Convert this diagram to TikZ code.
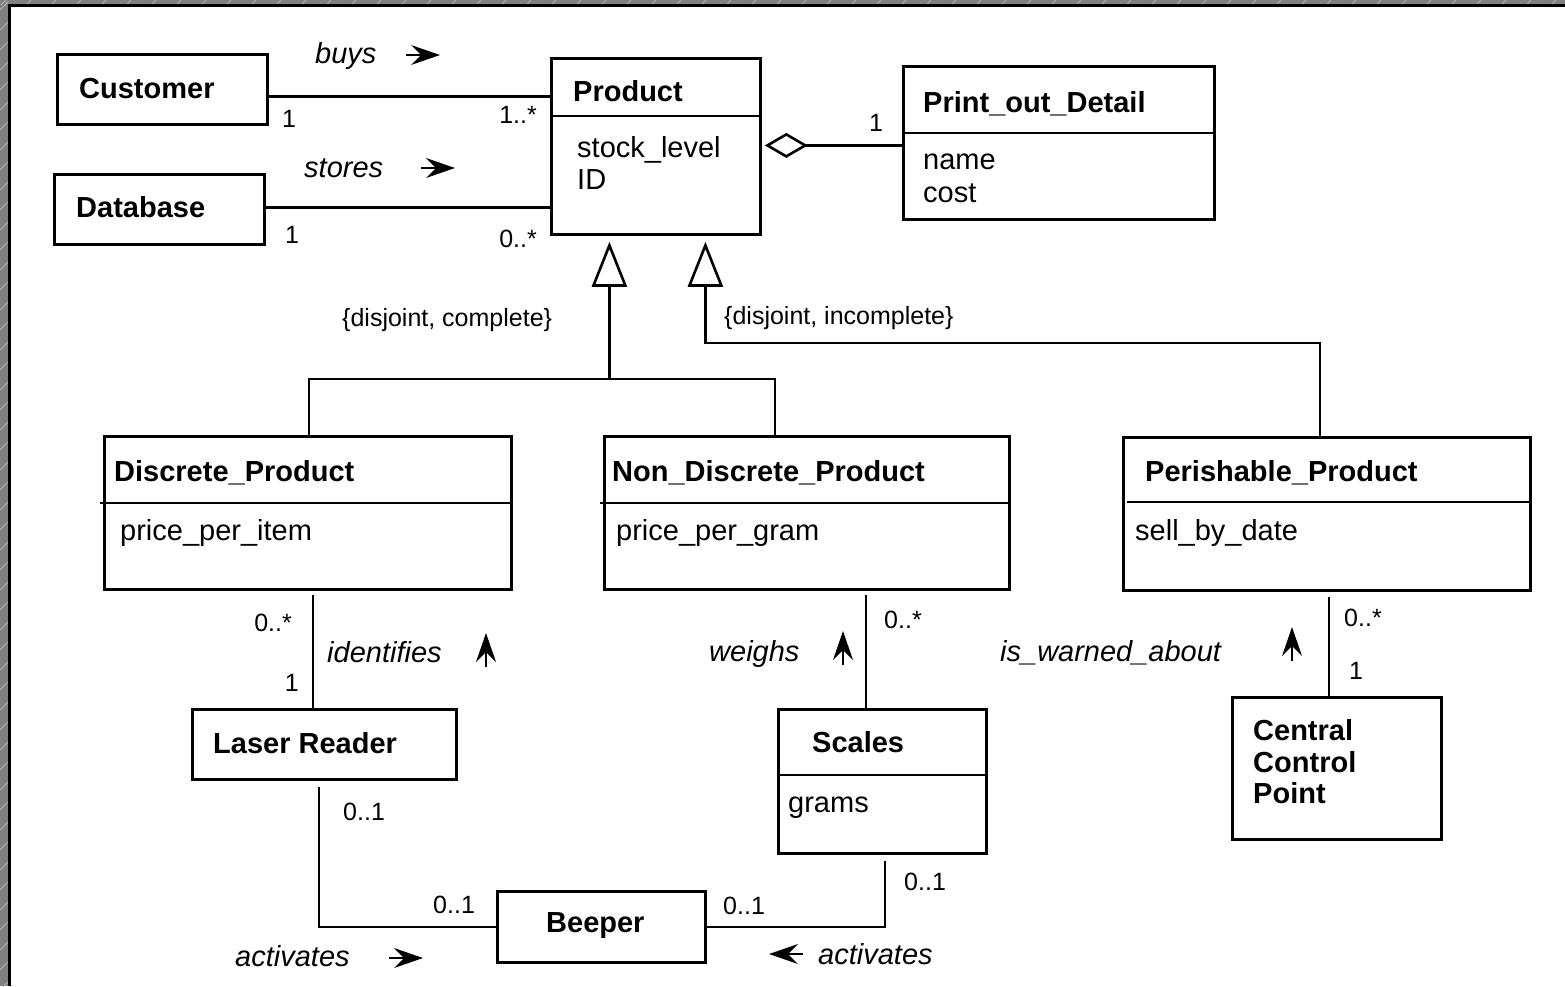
\documentclass[tikz,border=0pt]{standalone}
\usepackage{fontspec}
\setmainfont{Liberation Sans}
\usetikzlibrary{arrows.meta,calc}
\newcommand\fTitle{\fontsize{29}{33}\selectfont\bfseries}
\newcommand\fAttr{\fontsize{29}{33}\selectfont}
\newcommand\fMult{\fontsize{25}{29}\selectfont}
\newcommand\fRole{\fontsize{29}{33}\selectfont\itshape}
\begin{document}
\begin{tikzpicture}[x=1pt,y=-1pt,
  box/.style={draw, line width=2.8pt, rectangle, inner sep=0pt, anchor=north west},
  conn/.style={line width=2.6pt},
  ttl/.style={font=\fTitle, anchor=base west, inner sep=0pt},
  attr/.style={font=\fAttr, anchor=base west, inner sep=0pt},
  multl/.style={font=\fMult, anchor=base west, inner sep=0pt},
  multr/.style={font=\fMult, anchor=base east, inner sep=0pt},
  role/.style={font=\fRole, anchor=base west, inner sep=0pt},
  dirind/.pic={\fill (0,0) -- (-29,-10) -- (-19,0) -- (-29,10) -- cycle;
               \draw[line width=2.2pt] (-34,0) -- (-18,0);},
  gen/.style={conn, -{Triangle[open, length=45pt, width=35pt, line width=2.6pt]}},
  agg/.style={conn, shorten >=3pt, -{Diamond[open, length=43pt, width=25pt, line width=2.6pt]}}
]
\useasboundingbox (0,0) rectangle (1565,986);
\fill[white] (0,0) rectangle (1565,986);
% frame
\fill[black!50] (0,0) rectangle (9,986);
\fill[black!50] (0,0) rectangle (1565,6);
\begin{scope}
  \clip (0,0) rectangle (8,986);
  \foreach \i in {0,20,...,1000} \draw[black!30, line width=0.8pt] (0,\i+10) -- (10,\i);
\end{scope}
\begin{scope}
  \clip (0,0) rectangle (1565,4.5);
  \foreach \i in {0,25,...,1575} \draw[black!30, line width=0.8pt] (\i,6) -- (\i+6,0);
\end{scope}
\draw[line width=3pt] (9.5,986) -- (9.5,5.8) -- (1565,5.8);

% class boxes
\node[box, minimum width=210pt, minimum height=70pt] (cust) at (56,53) {};
\node[box, minimum width=210pt, minimum height=70pt] (db) at (53,173) {};
\node[box, minimum width=209pt, minimum height=176pt] (prod) at (550,57) {};
\node[box, minimum width=311pt, minimum height=153pt] (pod) at (902,65) {};
\node[box, minimum width=407pt, minimum height=153pt] (disc) at (103,435) {};
\node[box, minimum width=405pt, minimum height=153pt] (nondisc) at (603,435) {};
\node[box, minimum width=407pt, minimum height=153pt] (perish) at (1122,436) {};
\node[box, minimum width=264pt, minimum height=70pt] (laser) at (191,708) {};
\node[box, minimum width=208pt, minimum height=144pt] (scales) at (777,708) {};
\node[box, minimum width=209pt, minimum height=142pt] (ccp) at (1231,696) {};
\node[box, minimum width=208pt, minimum height=71pt] (beeper) at (496,890) {};

% compartment dividers
\draw[conn] ($(prod.north west)+(0,59)$) -- ($(prod.north east)+(0,59)$);
\draw[conn] ($(pod.north west)+(0,68)$) -- ($(pod.north east)+(0,68)$);
\draw[conn] ($(disc.north west)+(-3,68)$) -- ($(disc.north east)+(-2,68)$);
\draw[conn] ($(nondisc.north west)+(-3,68)$) -- ($(nondisc.north east)+(-2,68)$);
\draw[conn] ($(perish.north west)+(5,66)$) -- ($(perish.north east)+(-3,66)$);
\draw[conn] ($(scales.north west)+(0,67)$) -- ($(scales.north east)+(0,67)$);

% box texts
\node[ttl] (tcust) at (79,98) {Customer};
\node[ttl] (tdb) at (76,217) {Database};
\node[ttl] (tprod) at (573,101) {Product};
\node[attr] (aprod1) at (577,157) {stock\_level};
\node[attr] (aprod2) at (577,189) {ID};
\node[ttl] (tpod) at (923,112) {Print\_out\_Detail};
\node[attr] (apod1) at (923,169) {name};
\node[attr] (apod2) at (923,202) {cost};
\node[ttl] (tdisc) at (114,481) {Discrete\_Product};
\node[attr] (adisc) at (120,540) {price\_per\_item};
\node[ttl] (tnondisc) at (612,481) {Non\_Discrete\_Product};
\node[attr] (anondisc) at (616,540) {price\_per\_gram};
\node[ttl] (tperish) at (1145,481) {Perishable\_Product};
\node[attr] (aperish) at (1135,540) {sell\_by\_date};
\node[ttl] (tlaser) at (213,753) {Laser Reader};
\node[ttl] (tscales) at (812,752) {Scales};
\node[attr] (ascales) at (788,812) {grams};
\node[ttl] (tccp1) at (1253,740) {Central};
\node[ttl] (tccp2) at (1253,772) {Control};
\node[ttl] (tccp3) at (1253,803) {Point};
\node[ttl] (tbeeper) at (546,932) {Beeper};

% associations
\coordinate (c1) at ($(cust.east)+(0,7)$);
\draw[conn] (c1) -- (c1 -| prod.west);
\coordinate (c2) at ($(db.east)+(0,-2)$);
\draw[conn] (c2) -- (c2 -| prod.west);
\coordinate (ag) at ($(pod.west)+(0,2.5)$);
\draw[agg] (ag) -- (ag -| prod.east);

% generalisation 1
\coordinate (g1) at ($(prod.south)+(-46.5,6)$);
\coordinate (b1) at ($(disc.north west)+(206,-56)$);
\coordinate (b2) at ($(nondisc.north west)+(172,-56)$);
\draw[conn] (b1 |- disc.north) -- (b1) -- (b2) -- (b2 |- nondisc.north);
\draw[gen] (g1 |- b1) -- (g1);
% generalisation 2
\coordinate (g2) at ($(prod.south)+(49.5,6)$);
\coordinate (p2) at ($(perish.north west)+(198,-93)$);
\draw[gen] (p2 |- perish.north) -- (p2) -- (p2 -| g2) -- (g2);

% lower associations
\coordinate (dl) at ($(laser.north west)+(122,0)$);
\draw[conn, shorten <=4pt] (dl |- disc.south) -- (dl);
\coordinate (ns) at ($(scales.north west)+(89,0)$);
\draw[conn, shorten <=4pt] (ns |- nondisc.south) -- (ns);
\coordinate (pc) at ($(ccp.north west)+(98,0)$);
\draw[conn, shorten <=5pt] (pc |- perish.south) -- (pc);
\coordinate (lb) at ($(laser.south west)+(128,0)$);
\draw[conn, shorten <=6pt] (lb) -- (lb |- beeper.west) -- (beeper.west);
\coordinate (sb) at ($(scales.south west)+(108,0)$);
\draw[conn, shorten >=6pt] (beeper.east) -- (beeper.east -| sb) -- (sb);

% multiplicities
\node[multl] (m1) at (282,127) {1};
\node[multr] (m2) at (537,123) {1..*};
\node[multl] (m3) at (285,243) {1};
\node[multr] (m4) at (537,247) {0..*};
\node[multl] (m5) at (869,131) {1};
\node[multr] (m6) at (292,631) {0..*};
\node[multr] (m7) at (299,691) {1};
\node[multl] (m8) at (884,628) {0..*};
\node[multl] (m9) at (1344,626) {0..*};
\node[multl] (m10) at (1349,679) {1};
\node[multl] (m11) at (343,820) {0..1};
\node[multl] (m12) at (433,913) {0..1};
\node[multl] (m13) at (723,914) {0..1};
\node[multl] (m14) at (904,890) {0..1};

% constraints
\node[multl] (k1) at (342,326) {\{disjoint, complete\}};
\node[multl] (k2) at (724,324) {\{disjoint, incomplete\}};

% role names and direction indicators
\node[role] (r1) at (315,63) {buys};
\pic at (440,55) {dirind};
\node[role] (r2) at (304,177) {stores};
\pic at (455,168) {dirind};
\node[role] (r3) at (327,662) {identifies};
\pic[rotate=90] at (486,633) {dirind};
\node[role] (r4) at (709,661) {weighs};
\pic[rotate=90] at (843,631) {dirind};
\node[role] (r5) at (1000,661) {is\_warned\_about};
\pic[rotate=90] at (1292,627) {dirind};
\node[role] (r6) at (235,966) {activates};
\pic at (423,958) {dirind};
\node[role] (r7) at (818,964) {activates};
\pic[rotate=180] at (769,954) {dirind};
\end{tikzpicture}
\end{document}
